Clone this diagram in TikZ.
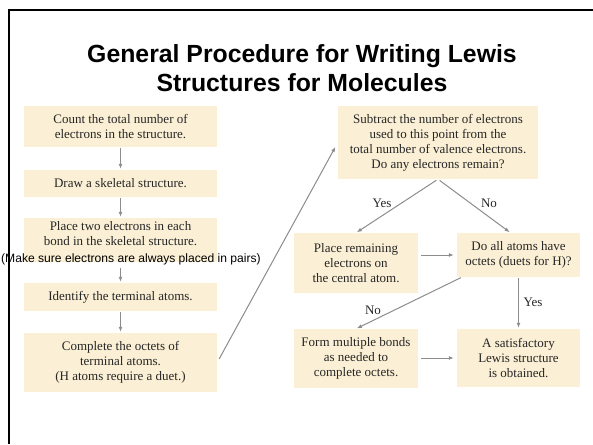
\documentclass[tikz,border=0pt]{standalone}
\usepackage{fontspec}
\setmainfont{Liberation Serif}
\setsansfont{Liberation Sans}
\usetikzlibrary{arrows.meta}

\definecolor{boxfill}{RGB}{251,240,213}
\definecolor{arrowgray}{RGB}{140,140,140}

\tikzset{
  stepbox/.style = {
    rectangle,                  % plain cream box
    draw          = none,       % no border
    fill          = boxfill,    %
    inner sep     = 0pt,        % size set by minimum width/height
    align         = center,     %
    font          = \fontsize{13}{15}\selectfont,%
    text          = black!85,   % inner label color
  },
  flow/.style = {
    draw          = arrowgray,  %
    line width    = 1pt,        %
    -{Latex[length=5pt, width=4pt]},%
  },
  answer/.style = {
    font          = \fontsize{13}{15}\selectfont,%
    text          = black!85,   %
    inner sep     = 0pt,        %
  },
}

\begin{document}
\begin{tikzpicture}[x=1pt, y=-1pt]
\useasboundingbox (0, 0) rectangle (593, 444);

% frame
\draw [line width = 2.5pt] (9, 444) |- (593, 10);

% title
\node at (302, 68.5) [
  align         = center,
  inner sep     = 0pt,
  font          = \sffamily\bfseries\fontsize{24.8}{29}\selectfont,
  ]
  (title)
  {General Procedure for Writing Lewis\\Structures for Molecules};

% left column
\node at (120.5, 126.5) [stepbox, minimum width = 193pt, minimum height = 41pt]
  (count) {Count the total number of\\electrons in the structure.};
\node at (120.5, 183.5) [stepbox, minimum width = 193pt, minimum height = 27pt]
  (skel) {Draw a skeletal structure.};
\node at (120.5, 240) [stepbox, minimum width = 193pt, minimum height = 44pt]
  (pairs) {Place two electrons in each\\bond in the skeletal structure.\\[-1pt]\mbox{}};
\node at (131, 259) [
  inner sep     = 0pt,
  font          = \sffamily\fontsize{12.1}{14}\selectfont,
  ]
  (note) {(Make sure electrons are always placed in pairs)};
\node at (120.5, 297) [stepbox, minimum width = 193pt, minimum height = 28pt]
  (ident) {Identify the terminal atoms.};
\node at (120.5, 362.5) [stepbox, minimum width = 193pt, minimum height = 59pt]
  (compl) {Complete the octets of\\terminal atoms.\\(H atoms require a duet.)};

% right column
\node at (438, 142.5) [stepbox, minimum width = 200pt, minimum height = 73pt]
  (subtr) {Subtract the number of electrons\\used to this point from the\\total number of valence electrons.\\Do any electrons remain?};
\node at (356, 263) [stepbox, minimum width = 124pt, minimum height = 60pt]
  (remain) {Place remaining\\electrons on\\the central atom.};
\node at (518.5, 255) [stepbox, minimum width = 123pt, minimum height = 44pt]
  (octet) {Do all atoms have\\octets (duets for H)?};
\node at (356, 358.5) [stepbox, minimum width = 124pt, minimum height = 59pt]
  (multi) {Form multiple bonds\\as needed to\\complete octets.};
\node at (518.5, 358) [stepbox, minimum width = 123pt, minimum height = 58pt]
  (done) {A satisfactory\\Lewis structure\\is obtained.};

% arrows, left column
\draw [flow, shorten <= 1pt, shorten >= 1pt] (count) -- (skel);
\draw [flow, shorten <= 1pt, shorten >= 1pt] (skel) -- (pairs);
\draw [flow, shorten <= 3pt, shorten >= 1pt] (note.south -| ident.north) -- (ident);
\draw [flow, shorten <= 1pt, shorten >= 1pt] (ident) -- (compl);
\draw [flow, shorten <= 4pt, shorten >= 5pt] (compl.east) -- (subtr.west);

% arrows, right column
\draw [flow, shorten <= 2pt, shorten >= 1pt] (subtr.south) -- (remain.north);
\draw [flow, shorten <= 2pt, shorten >= 1pt] (subtr.south) -- ([xshift = -8pt]octet.north);
\draw [flow, shorten <= 3pt, shorten >= 3pt] (remain.east |- octet.west) -- (octet.west);
\draw [flow, shorten <= 1pt, shorten >= 1pt] ([xshift = 5pt]octet.south west) -- (multi.north);
\draw [flow, shorten <= 1pt, shorten >= 1pt] (octet.south) -- (done.north);
\draw [flow, shorten <= 3pt, shorten >= 3pt] (multi.east |- done.west) -- (done.west);

% answers
\node at (382, 203) [answer] (yes1) {Yes};
\node at (489, 203) [answer] (no1)  {No};
\node at (373, 310) [answer] (no2)  {No};
\node at (533, 302) [answer] (yes2) {Yes};
\end{tikzpicture}
\end{document}
